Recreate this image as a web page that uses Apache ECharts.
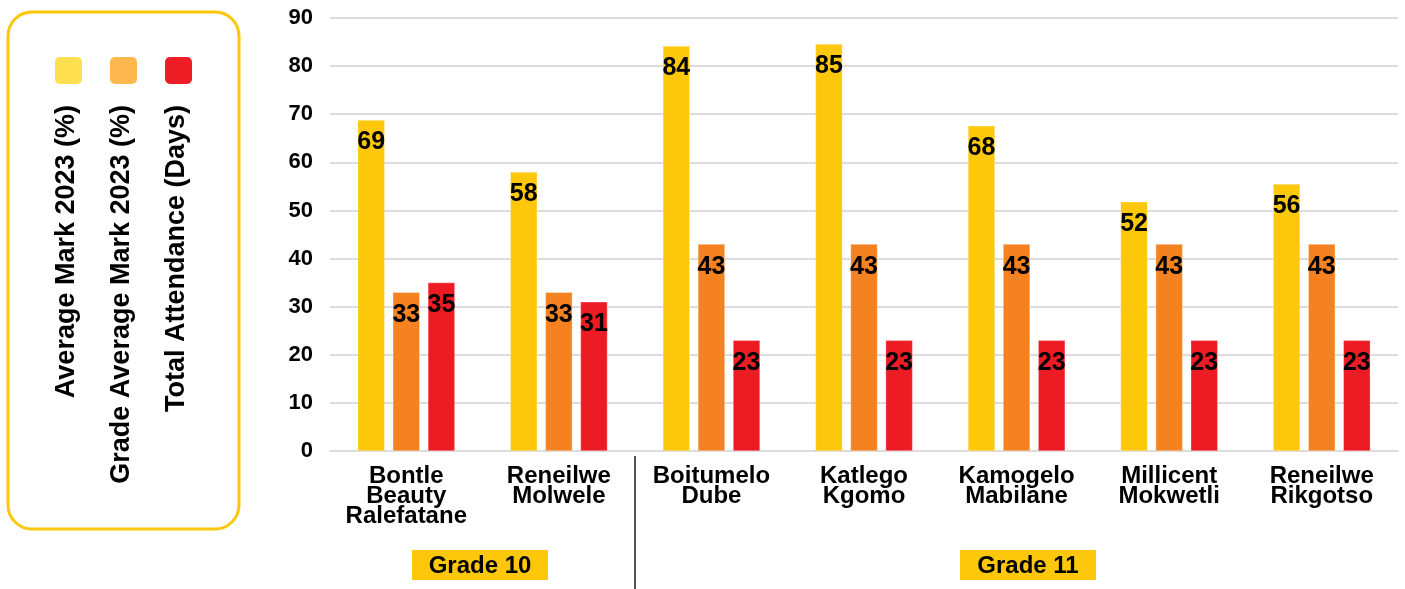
<!DOCTYPE html>
<html>
<head>
<meta charset="utf-8">
<script src="https://cdn.jsdelivr.net/npm/echarts@6/dist/echarts.min.js"></script>
<style>
  html, body { margin: 0; padding: 0; background: #fff; }
  #main { width: 1405px; height: 589px; }
</style>
</head>
<body>
<div id="main"></div>
<script>
// learners shown on the x axis (two grades)
var learners = [
    'Bontle\nBeauty\nRalefatane', 'Reneilwe\nMolwele',
    'Boitumelo\nDube', 'Katlego\nKgomo', 'Kamogelo\nMabilane',
    'Millicent\nMokwetli', 'Reneilwe\nRikgotso'
];
var averageMark = [68.8, 58, 84.2, 84.6, 67.6, 51.8, 55.5];
var gradeAverage = [33, 33, 43, 43, 43, 43, 43];
var attendance = [35, 31, 23, 23, 23, 23, 23];
var seriesNames = ['Average Mark 2023 (%)', 'Grade Average Mark 2023 (%)', 'Total Attendance (Days)'];
var yTicks = { min: 0, max: 90, interval: 10 };

var font = "'Liberation Sans', Arial, Helvetica, sans-serif";
var barColors = ['#FDC70C', '#F58220', '#ED1C24'];
var swatchColors = ['#FDDF4F', '#FDB74F', '#EE1C25'];

var chart = echarts.init(document.getElementById('main'));

function makeSeries(name, data, color) {
    return {
        name: name,
        type: 'bar',
        data: data,
        barWidth: 27,
        barGap: '30%',
        itemStyle: { color: color, borderColor: 'rgba(255,255,255,0.6)', borderWidth: 0.5 },
        label: {
            show: true,
            position: 'insideTop',
            distance: 10,
            color: '#000',
            fontFamily: font,
            fontWeight: 'bold',
            fontSize: 25,
            formatter: function (p) { return Math.round(p.value); }
        }
    };
}

var legendGraphics = [{
    type: 'rect',
    shape: { x: 8, y: 12, width: 231, height: 517, r: 24 },
    style: { fill: '#fff', stroke: '#FDC70C', lineWidth: 3 }
}];
var swatchX = [55, 110, 165];
var textX = [67, 122, 177];
seriesNames.forEach(function (n, i) {
    legendGraphics.push({
        type: 'rect',
        shape: { x: swatchX[i], y: 57, width: 27, height: 27, r: 5 },
        style: { fill: swatchColors[i] }
    });
    legendGraphics.push({
        type: 'text',
        x: textX[i],
        y: 105,
        rotation: Math.PI / 2,
        style: {
            text: n, fill: '#000', font: 'bold 27px ' + font,
            align: 'right', verticalAlign: 'middle'
        }
    });
});

function gradeBox(x, label) {
    return {
        type: 'group',
        children: [
            { type: 'rect', shape: { x: x, y: 550, width: 136, height: 30 }, style: { fill: '#FDC70C' } },
            {
                type: 'text', x: x + 68, y: 566,
                style: { text: label, fill: '#000', font: 'bold 24px ' + font, align: 'center', verticalAlign: 'middle' }
            }
        ]
    };
}

var option = {
    backgroundColor: '#fff',
    animation: false,
    grid: { left: 330, right: 7, top: 18, bottom: 138, containLabel: false },
    xAxis: {
        type: 'category',
        data: learners,
        axisTick: { show: false },
        axisLine: { lineStyle: { color: '#dcdcdc', width: 2 } },
        axisLabel: {
            color: '#000', fontFamily: font, fontWeight: 'bold', fontSize: 24,
            lineHeight: 20, margin: 15, interval: 0
        }
    },
    yAxis: {
        type: 'value',
        min: yTicks.min,
        max: yTicks.max,
        interval: yTicks.interval,
        axisLine: { show: false },
        axisTick: { show: false },
        splitLine: { lineStyle: { color: '#dcdcdc', width: 2 } },
        axisLabel: { color: '#000', fontFamily: font, fontWeight: 'bold', fontSize: 22, margin: 17 }
    },
    series: [
        makeSeries(seriesNames[0], averageMark, barColors[0]),
        makeSeries(seriesNames[1], gradeAverage, barColors[1]),
        makeSeries(seriesNames[2], attendance, barColors[2])
    ],
    graphic: legendGraphics.concat([
        { type: 'line', shape: { x1: 635, y1: 456, x2: 635, y2: 589 }, style: { stroke: '#555', lineWidth: 2 } },
        gradeBox(412, 'Grade 10'),
        gradeBox(960, 'Grade 11')
    ])
};

chart.setOption(option);
</script>
</body>
</html>
